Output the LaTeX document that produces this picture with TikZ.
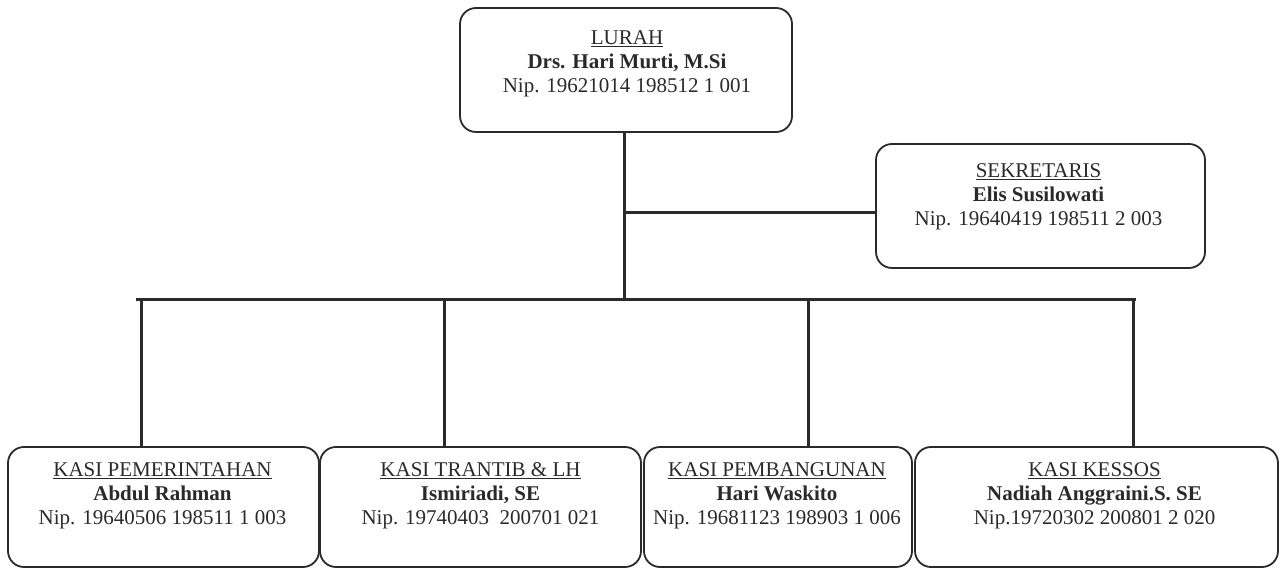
\documentclass[tikz,border=0pt]{standalone}
\usepackage{fontspec}
\setmainfont{Liberation Serif}
\usetikzlibrary{calc}
\definecolor{ink}{HTML}{2A2A2A}
\tikzset{
  x=1pt, y=1pt,
  orgbox/.style={draw=ink, line width=1.8pt, rounded corners=16pt, inner sep=0pt},
  orgtxt/.style={align=center, font=\fontsize{21}{24}\selectfont, text=ink, inner sep=0pt},
  link/.style={draw=ink, line width=3pt}
}
\begin{document}
\begin{tikzpicture}
\useasboundingbox[fill=white] (0,0) rectangle (1280,-569);
% boxes
\node[orgbox, minimum width=332pt, minimum height=124pt] (lurah) at (626,-70) {};
\node[orgbox, minimum width=329pt, minimum height=124pt] (sekr) at (1040.5,-206) {};
\node[orgbox, minimum width=311pt, minimum height=120pt] (b1) at (163.5,-507) {};
\node[orgbox, minimum width=321pt, minimum height=120pt] (b2) at (480.5,-507) {};
\node[orgbox, minimum width=268pt, minimum height=120pt] (b3) at (778,-507) {};
\node[orgbox, minimum width=363pt, minimum height=120pt] (b4) at (1096.5,-507) {};
% texts
\node[orgtxt] (lurahT) at ($(lurah.center)+(1,6)$) {\underline{LURAH}\\\textbf{Drs. Hari Murti, M.Si}\\Nip. 19621014 198512 1 001};
\node[orgtxt] (sekrT) at ($(sekr.center)+(-2,9)$) {\underline{SEKRETARIS}\\\textbf{Elis Susilowati}\\Nip. 19640419 198511 2 003};
\node[orgtxt] (b1T) at ($(b1.center)+(-1,11)$) {\underline{KASI PEMERINTAHAN}\\\textbf{Abdul Rahman}\\Nip. 19640506 198511 1 003};
\node[orgtxt] (b2T) at ($(b2.center)+(0,11)$) {\underline{KASI TRANTIB \& LH}\\\textbf{Ismiriadi, SE}\\Nip. 19740403\ \ 200701 021};
\node[orgtxt] (b3T) at ($(b3.center)+(-1,11)$) {\underline{KASI PEMBANGUNAN}\\\textbf{Hari Waskito}\\Nip. 19681123 198903 1 006};
\node[orgtxt] (b4T) at ($(b4.center)+(-2,11)$) {\underline{KASI KESSOS}\\\textbf{Nadiah Anggraini.S. SE}\\Nip.19720302 200801 2 020};
% connectors
\coordinate (busL) at (136,-300);
\coordinate (busR) at (1136,-300);
\coordinate (trunk) at (624,-300);
\coordinate (sj) at (624,-213);
\draw[link] (lurah.south -| trunk) -- (trunk);
\draw[link] (sj) -- (sj -| sekr.west);
\draw[link] (busL) -- (busR);
\coordinate (d1) at (141,-300);
\coordinate (d2) at (444,-300);
\coordinate (d3) at (808,-300);
\coordinate (d4) at (1133,-300);
\draw[link] (d1) -- (d1 |- b1.north);
\draw[link] (d2) -- (d2 |- b2.north);
\draw[link] (d3) -- (d3 |- b3.north);
\draw[link] (d4) -- (d4 |- b4.north);
\end{tikzpicture}
\end{document}
